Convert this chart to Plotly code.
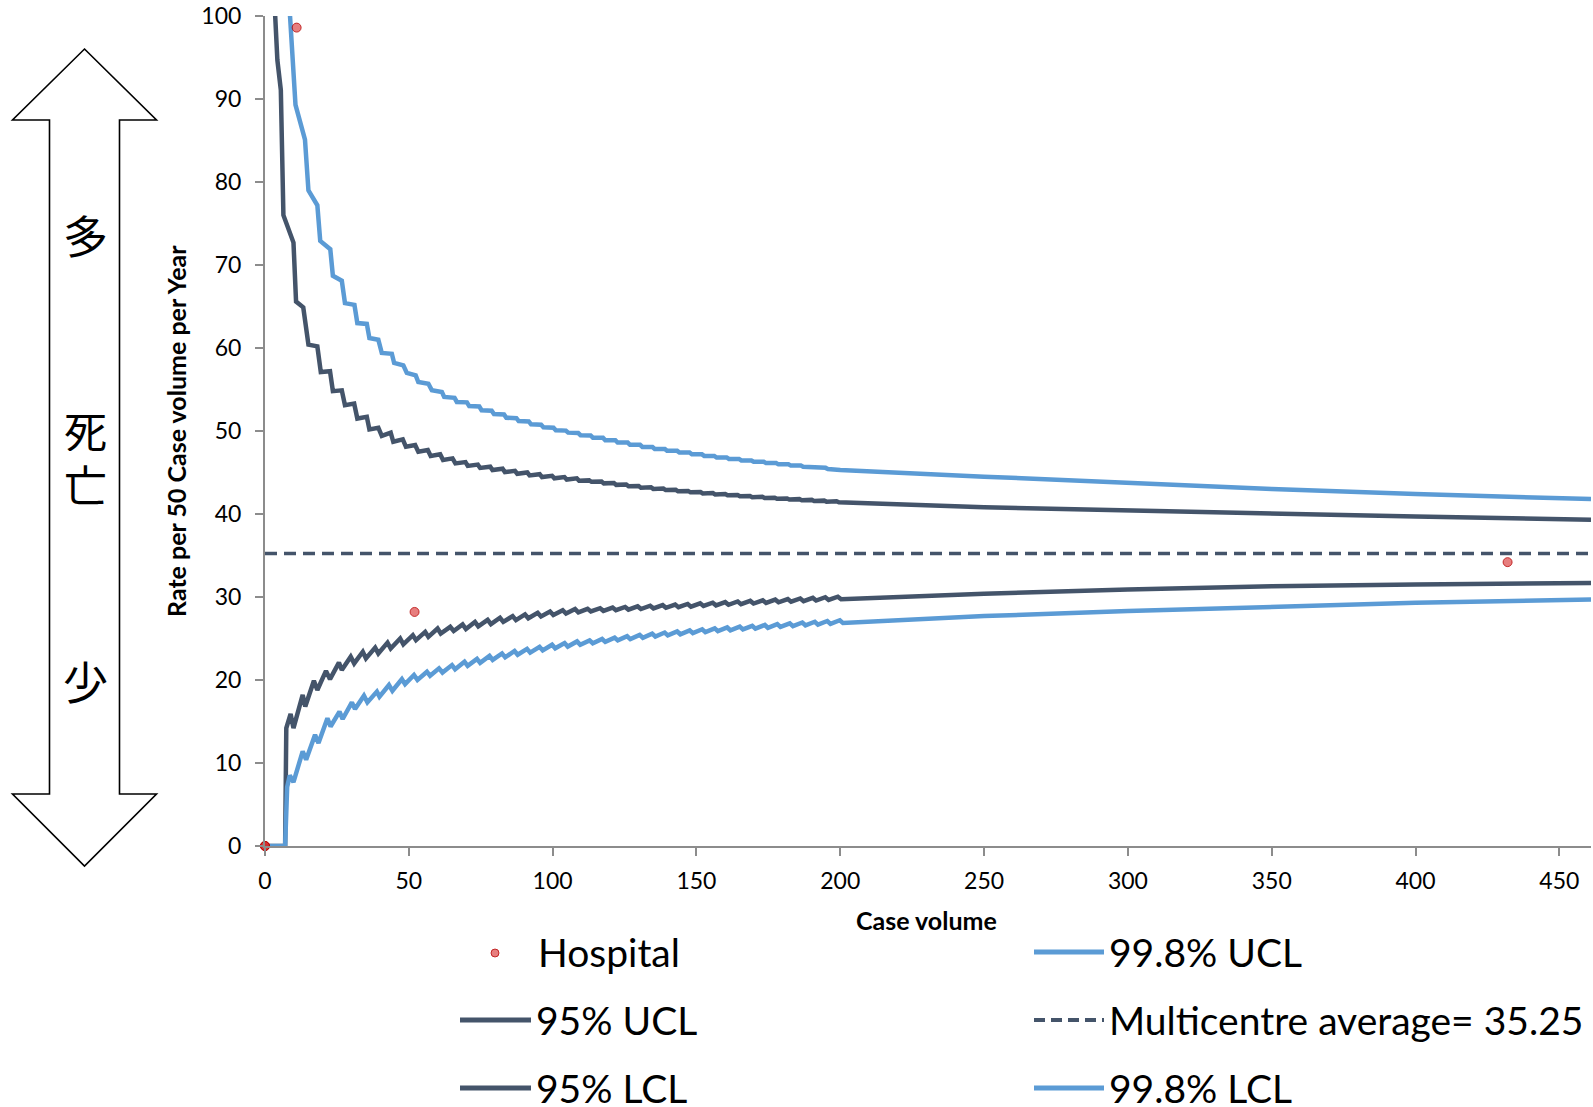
import plotly.graph_objects as go

# ---------------- data ----------------
hospital_x = [0, 0, 0, 11, 52, 432]
hospital_y = [0, 0, 0, 98.6, 28.2, 34.2]

# (case volume, rate) vertices of each control limit
ucl998_points = [
    (8.4, 103), (8.7, 100), (10.6, 89.3), (13.9, 85.1), (15.1, 79.0), (18.2, 77.2), (19.2, 72.9),
    (22.7, 71.9), (23.6, 68.7), (26.7, 68.1), (27.8, 65.4), (31.1, 65.2), (32.1, 63.0), (35.4, 62.9),
    (36.3, 61.2), (39.4, 61.0), (40.6, 59.4), (44.1, 59.3), (44.9, 58.2), (48.1, 57.9), (49.3, 57.0),
    (52.4, 56.7), (53.3, 55.9), (56.8, 55.7), (58.0, 54.9), (61.5, 54.7), (62.3, 54.1), (65.9, 54.0),
    (66.7, 53.5), (70.2, 53.45), (71.0, 53.0), (74.5, 52.95), (75.3, 52.5), (78.8, 52.45), (79.6, 52.05),
    (83.1, 52.0), (83.9, 51.6), (87.4, 51.55), (88.2, 51.2), (91.7, 51.15), (92.5, 50.8), (96.0, 50.75),
    (96.8, 50.45), (100.3, 50.4), (101.1, 50.1), (104.6, 50.05), (105.4, 49.8), (108.9, 49.75),
    (109.7, 49.5), (113.2, 49.47), (114.0, 49.2), (117.5, 49.2), (118.3, 48.89), (121.8, 48.89),
    (122.6, 48.61), (126.1, 48.61), (126.9, 48.34), (130.4, 48.34), (131.2, 48.08), (134.7, 48.08),
    (135.5, 47.84), (139.0, 47.84), (139.8, 47.61), (143.3, 47.61), (144.1, 47.4), (147.6, 47.4),
    (148.4, 47.19), (151.9, 47.19), (152.7, 47.0), (156.2, 47.0), (157.0, 46.81), (160.5, 46.81),
    (161.3, 46.63), (164.8, 46.63), (165.6, 46.45), (169.1, 46.45), (169.9, 46.29), (173.4, 46.29),
    (174.2, 46.13), (177.7, 46.13), (178.5, 45.98), (182.0, 45.98), (182.8, 45.83), (186.3, 45.83),
    (187.1, 45.69), (190.6, 45.69), (191.4, 45.56), (194.9, 45.56), (195.7, 45.43), (199.2, 45.43),
    (200.0, 45.3), (250, 44.5), (300, 43.7), (350, 43.0), (400, 42.4), (461, 41.8)]

ucl95_points = [
    (3.4, 101), (4.3, 94.7), (5.5, 91.1), (6.4, 76.0), (9.9, 72.7), (10.8, 65.6), (13.3, 64.9),
    (15.1, 60.4), (18.2, 60.2), (19.4, 57.1), (22.6, 57.2), (23.6, 54.8), (26.7, 54.9), (27.8, 53.1),
    (31.0, 53.3), (32.1, 51.5), (35.4, 51.7), (36.3, 50.2), (39.4, 50.4), (40.6, 49.4), (43.7, 49.8),
    (44.6, 48.7), (47.9, 49.0), (49.0, 48.1), (52.2, 48.3), (53.3, 47.5), (56.6, 47.7), (57.6, 47.0),
    (60.9, 47.2), (61.9, 46.5), (65.2, 46.7), (66.2, 46.1), (69.7, 46.25), (70.5, 45.8), (74.0, 45.95),
    (74.8, 45.55), (78.3, 45.7), (79.1, 45.3), (82.6, 45.45), (83.4, 45.05), (86.9, 45.2), (87.7, 44.85),
    (91.2, 45.0), (92.0, 44.65), (95.5, 44.8), (96.3, 44.45), (99.8, 44.6), (100.6, 44.3), (104.1, 44.45),
    (104.9, 44.15), (108.4, 44.3), (109.2, 44.0), (112.7, 44.05), (113.5, 43.88), (117.0, 43.92),
    (117.8, 43.69), (121.3, 43.73), (122.1, 43.51), (125.6, 43.55), (126.4, 43.34), (129.9, 43.38),
    (130.7, 43.17), (134.2, 43.21), (135.0, 43.02), (138.5, 43.06), (139.3, 42.88), (142.8, 42.92),
    (143.6, 42.74), (147.1, 42.78), (147.9, 42.61), (151.4, 42.65), (152.2, 42.48), (155.7, 42.52),
    (156.5, 42.36), (160.0, 42.4), (160.8, 42.25), (164.3, 42.29), (165.1, 42.14), (168.6, 42.18),
    (169.4, 42.03), (172.9, 42.07), (173.7, 41.93), (177.2, 41.97), (178.0, 41.84), (181.5, 41.88),
    (182.3, 41.75), (185.8, 41.79), (186.6, 41.66), (190.1, 41.7), (190.9, 41.57), (194.4, 41.61),
    (195.2, 41.49), (198.7, 41.53), (199.5, 41.41), (250, 40.8), (300, 40.4), (350, 40.0),
    (400, 39.7), (461, 39.3)]

lcl95_points = [
    (0, 0), (7.0, 0), (7.4, 14.2), (8.9, 15.9), (9.9, 14.2), (13.1, 18.2), (14.0, 16.8), (17.0, 19.9),
    (18.2, 18.8), (21.2, 21.1), (22.6, 20.1), (25.7, 22.1), (26.7, 21.2), (29.8, 22.8), (31.0, 22.0),
    (34.0, 23.4), (35.1, 22.6), (38.3, 23.9), (39.4, 23.2), (42.6, 24.5), (43.7, 23.8), (47.0, 25.0),
    (48.1, 24.3), (51.4, 25.4), (52.5, 24.8), (55.7, 25.8), (56.8, 25.2), (60.0, 26.2), (61.1, 25.6),
    (64.4, 26.4), (65.6, 25.9), (68.7, 26.7), (69.85, 26.15), (73.0, 27.0), (74.15, 26.47),
    (77.4, 27.25), (78.55, 26.73), (81.7, 27.5), (82.85, 27.0), (86.1, 27.7), (87.25, 27.22),
    (90.4, 27.9), (91.55, 27.44), (94.8, 28.1), (95.95, 27.66), (99.1, 28.25), (100.25, 27.83),
    (103.5, 28.4), (104.65, 28.0), (107.8, 28.55), (108.95, 28.15), (112.15, 28.58), (113.3, 28.26),
    (116.5, 28.65), (117.65, 28.33), (120.85, 28.73), (122.0, 28.41), (125.2, 28.8), (126.35, 28.48),
    (129.55, 28.87), (130.7, 28.55), (133.9, 28.95), (135.05, 28.63), (138.25, 29.02), (139.4, 28.7),
    (142.6, 29.09), (143.75, 28.77), (146.95, 29.16), (148.1, 28.84), (151.3, 29.24), (152.45, 28.92),
    (155.65, 29.31), (156.8, 28.99), (160.0, 29.38), (161.15, 29.06), (164.35, 29.46), (165.5, 29.14),
    (168.7, 29.53), (169.85, 29.21), (173.05, 29.6), (174.2, 29.28), (177.4, 29.68), (178.55, 29.36),
    (181.75, 29.75), (182.9, 29.43), (186.1, 29.82), (187.25, 29.5), (190.45, 29.89), (191.6, 29.57),
    (194.8, 29.97), (195.95, 29.65), (199.15, 30.04), (200.3, 29.72), (250, 30.4), (300, 30.9),
    (350, 31.3), (400, 31.5), (461, 31.7)]

lcl998_points = [
    (0, 0), (7.0, 0), (7.7, 7.1), (8.6, 8.5), (9.9, 7.7), (13.1, 11.4), (14.3, 10.4), (17.4, 13.4),
    (18.6, 12.4), (21.7, 15.4), (22.8, 14.4), (25.9, 16.2), (27.0, 15.3), (30.2, 17.3), (31.3, 16.5),
    (34.4, 18.1), (35.6, 17.3), (38.9, 18.6), (39.8, 18.0), (43.1, 19.4), (44.3, 18.7), (47.6, 20.1),
    (48.7, 19.5), (51.8, 20.6), (53.0, 20.0), (56.3, 21.0), (57.4, 20.5), (60.5, 21.4), (61.7, 20.9),
    (65.0, 21.8), (66.1, 21.3), (69.35, 22.2), (70.45, 21.7), (73.7, 22.55), (74.8, 22.07),
    (78.05, 22.9), (79.15, 22.42), (82.4, 23.2), (83.5, 22.73), (86.75, 23.5), (87.85, 23.04),
    (91.1, 23.75), (92.2, 23.3), (95.45, 24.0), (96.55, 23.56), (99.8, 24.25), (100.9, 23.82),
    (104.15, 24.45), (105.25, 24.03), (108.5, 24.65), (109.6, 24.25), (112.85, 24.77), (113.95, 24.43),
    (117.2, 24.94), (118.3, 24.6), (121.55, 25.11), (122.65, 24.77), (125.9, 25.27), (127.0, 24.93),
    (130.25, 25.43), (131.35, 25.09), (134.6, 25.58), (135.7, 25.24), (138.95, 25.72), (140.05, 25.38),
    (143.3, 25.85), (144.4, 25.51), (147.65, 25.98), (148.75, 25.64), (152.0, 26.11), (153.1, 25.77),
    (156.35, 26.22), (157.45, 25.88), (160.7, 26.33), (161.8, 25.99), (165.05, 26.43), (166.15, 26.09),
    (169.4, 26.53), (170.5, 26.19), (173.75, 26.63), (174.85, 26.29), (178.1, 26.73), (179.2, 26.39),
    (182.45, 26.83), (183.55, 26.49), (186.8, 26.93), (187.9, 26.59), (191.15, 27.02), (192.25, 26.68),
    (195.5, 27.11), (196.6, 26.77), (199.85, 27.2), (200.95, 26.86), (250, 27.7), (300, 28.3),
    (350, 28.8), (400, 29.3), (461, 29.7)]

average_value = 35.25
average_x = [0, 461]

x_ticks = [0, 50, 100, 150, 200, 250, 300, 350, 400, 450]
y_ticks = [0, 10, 20, 30, 40, 50, 60, 70, 80, 90, 100]

legend_labels = ["Hospital", "99.8% UCL", "95% UCL", "Multicentre average= 35.25",
                 "95% LCL", "99.8% LCL"]

# ---------------- styling ----------------
W, H = 1593, 1107
L, R, T, B = 265, 1591, 16, 846
DARK = "#44546A"
LIGHT = "#5B9BD5"
AXIS = "#8C8C8C"
FONT = "Lato, 'Noto Sans', sans-serif"
CJK = "'Noto Sans CJK JP', 'Noto Sans CJK SC', sans-serif"
HOSP_FILL = "rgba(215,40,40,0.6)"
HOSP_LINE = "rgba(180,0,0,0.75)"
LW = 4.5


def px(xp):
    return (xp - L) / (R - L)


def py(yp):
    return (B - yp) / (B - T)


def xs(points):
    return [p[0] for p in points]


def ys(points):
    return [p[1] for p in points]


fig = go.Figure()

fig.add_trace(go.Scatter(x=xs(ucl998_points), y=ys(ucl998_points), mode="lines",
                         name=legend_labels[1], line=dict(color=LIGHT, width=LW)))
fig.add_trace(go.Scatter(x=xs(ucl95_points), y=ys(ucl95_points), mode="lines",
                         name=legend_labels[2], line=dict(color=DARK, width=LW)))
fig.add_trace(go.Scatter(x=average_x, y=[average_value] * len(average_x), mode="lines",
                         name=legend_labels[3],
                         line=dict(color=DARK, width=3.5, dash="12px,7px")))
fig.add_trace(go.Scatter(x=xs(lcl95_points), y=ys(lcl95_points), mode="lines",
                         name=legend_labels[4], line=dict(color=DARK, width=LW)))
fig.add_trace(go.Scatter(x=xs(lcl998_points), y=ys(lcl998_points), mode="lines",
                         name=legend_labels[5], line=dict(color=LIGHT, width=LW)))
fig.add_trace(go.Scatter(x=hospital_x, y=hospital_y, mode="markers", name=legend_labels[0],
                         cliponaxis=False,
                         marker=dict(size=9, color=HOSP_FILL,
                                     line=dict(color=HOSP_LINE, width=1))))

shapes = []
annotations = []

# double-headed arrow on the left
arrow_pts = [(84.5, 49), (156.5, 120), (119.5, 120), (119.5, 794), (156.5, 794),
             (84.5, 866), (12.5, 794), (49.5, 794), (49.5, 120), (12.5, 120)]
path = "M " + " L ".join(f"{px(a):.5f},{py(b):.5f}" for a, b in arrow_pts) + " Z"
shapes.append(dict(type="path", xref="paper", yref="paper", path=path,
                   line=dict(color="black", width=1.6), fillcolor="white", layer="below"))

for ch, (cx, cy), fs in zip(["多", "死", "亡", "少"],
                            [(85, 234), (85, 428), (85, 483), (85, 680)],
                            [45, 43, 43, 45]):
    annotations.append(dict(text=ch, x=px(cx), y=py(cy), xref="paper", yref="paper",
                            showarrow=False, xanchor="center", yanchor="middle",
                            height=fs + 2,
                            font=dict(family=CJK, size=fs, color="black")))

# axis titles
annotations.append(dict(text="<b>Rate per 50 Case volume per Year</b>", x=px(176), y=py(431),
                        xref="paper", yref="paper", showarrow=False, textangle=-90,
                        xanchor="center", yanchor="middle",
                        font=dict(family=FONT, size=25, color="black")))
annotations.append(dict(text="<b>Case volume</b>", x=px(926), y=py(920),
                        xref="paper", yref="paper", showarrow=False,
                        xanchor="center", yanchor="middle",
                        font=dict(family=FONT, size=25, color="black")))

# custom legend (two columns, three rows)
rows = [952, 1020, 1088]
LEG_SIZE = 39
# left column
annotations.append(dict(text=legend_labels[0], x=px(536), y=py(rows[0]), xref="paper", yref="paper",
                        showarrow=False, xanchor="left", yanchor="middle",
                        font=dict(family=FONT, size=LEG_SIZE, color="black")))
shapes.append(dict(type="circle", xref="paper", yref="paper",
                   x0=px(491), x1=px(499), y0=py(949), y1=py(957),
                   fillcolor=HOSP_FILL, line=dict(color=HOSP_LINE, width=1)))
for r, lab in [(rows[1], legend_labels[2]), (rows[2], legend_labels[4])]:
    shapes.append(dict(type="line", xref="paper", yref="paper", x0=px(460), x1=px(531),
                       y0=py(r), y1=py(r), line=dict(color=DARK, width=5)))
    annotations.append(dict(text=lab, x=px(534), y=py(r), xref="paper", yref="paper",
                            showarrow=False, xanchor="left", yanchor="middle",
                            font=dict(family=FONT, size=LEG_SIZE, color="black")))
# right column
for r, lab, col, dash in [(rows[0], legend_labels[1], LIGHT, "solid"),
                          (rows[1], legend_labels[3], DARK, "11px,6px"),
                          (rows[2], legend_labels[5], LIGHT, "solid")]:
    shapes.append(dict(type="line", xref="paper", yref="paper", x0=px(1034), x1=px(1104),
                       y0=py(r), y1=py(r), line=dict(color=col, width=5 if dash == "solid" else 4,
                                                     dash=dash)))
    annotations.append(dict(text=lab, x=px(1107), y=py(r), xref="paper", yref="paper",
                            showarrow=False, xanchor="left", yanchor="middle",
                            font=dict(family=FONT, size=LEG_SIZE, color="black")))

fig.update_layout(
    width=W, height=H,
    margin=dict(l=L, r=W - R, t=T, b=H - B, pad=0),
    paper_bgcolor="white", plot_bgcolor="white",
    showlegend=False,
    font=dict(family=FONT, color="black"),
    shapes=shapes, annotations=annotations,
    xaxis=dict(range=[0, 461], tickvals=x_ticks, ticktext=[str(v) for v in x_ticks],
               showgrid=False, zeroline=False, showline=True, linecolor=AXIS, linewidth=2,
               ticks="outside", ticklen=8, tickwidth=1.5, tickcolor=AXIS,
               tickfont=dict(family=FONT, size=23, color="black"), ticklabelstandoff=5),
    yaxis=dict(range=[0, 100], tickvals=y_ticks, ticktext=[str(v) for v in y_ticks],
               showgrid=False, zeroline=False, showline=True, linecolor=AXIS, linewidth=2,
               ticks="outside", ticklen=8, tickwidth=1.5, tickcolor=AXIS,
               tickfont=dict(family=FONT, size=23, color="black"), ticklabelstandoff=9),
)

fig.write_html("out.html")
